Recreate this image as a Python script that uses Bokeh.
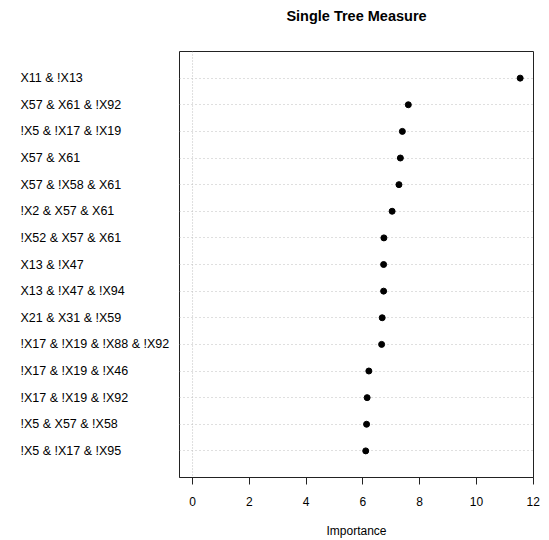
from bokeh.plotting import figure
from bokeh.layouts import row, column
from bokeh.models import ColumnDataSource, Span, FixedTicker, Range1d
from bokeh.embed import file_html
from bokeh.resources import INLINE
from bokeh.core.properties import value

labels = ["X11 & !X13", "X57 & X61 & !X92", "!X5 & !X17 & !X19", "X57 & X61",
          "X57 & !X58 & X61", "!X2 & X57 & X61", "!X52 & X57 & X61", "X13 & !X47",
          "X13 & !X47 & !X94", "X21 & X31 & !X59", "!X17 & !X19 & !X88 & !X92",
          "!X17 & !X19 & !X46", "!X17 & !X19 & !X92", "!X5 & X57 & !X58", "!X5 & !X17 & !X95"]
importance = [11.54, 7.60, 7.39, 7.32, 7.27, 7.03, 6.74, 6.73, 6.73, 6.68, 6.66,
              6.21, 6.15, 6.13, 6.10]
xticks = [0, 2, 4, 6, 8, 10, 12]
title = "Single Tree Measure"

n = len(labels)
rows = list(range(n, 0, -1))

FONT = "Liberation Sans"
yr = Range1d(0, n + 1)


def blank(fig):
    fig.axis.visible = False
    fig.grid.visible = False
    fig.outline_line_color = None
    fig.background_fill_color = "white"
    fig.border_fill_color = "white"


# title strip
top = figure(width=549, height=51, output_backend="svg", toolbar_location=None,
             x_range=Range1d(0, 549), y_range=Range1d(0, 51),
             min_border=0)
blank(top)
top.text(x=[356], y=[36], text=[title], text_font=value(FONT),
         text_font_size="14.5px", text_font_style="bold", text_color="black",
         text_baseline="middle", text_align="center")

# left panel with the row labels
left = figure(width=179, height=489, output_backend="svg", toolbar_location=None,
              x_range=Range1d(0, 179), y_range=yr,
              min_border_left=0, min_border_right=0, min_border_top=0,
              min_border_bottom=62)
blank(left)
lsrc = ColumnDataSource(dict(x=[20] * n, y=rows, lab=labels))
left.text("x", "y", text="lab", source=lsrc, text_font=value(FONT),
          text_font_size="12.5px", text_color="black",
          text_baseline="middle", text_align="left")

p = figure(width=370, height=489, output_backend="svg", toolbar_location=None,
           x_range=Range1d(-0.46, 12.01), y_range=yr,
           min_border_left=0, min_border_right=16, min_border_top=0,
           min_border_bottom=62)
p.background_fill_color = "white"
p.border_fill_color = "white"
p.outline_line_color = "#222222"
p.outline_line_width = 1

p.yaxis.visible = False
p.xgrid.visible = False
p.ygrid[0].ticker = FixedTicker(ticks=rows)
p.ygrid.grid_line_color = "#BEBEBE"
p.ygrid.grid_line_dash = "1 3"
p.ygrid.grid_line_width = 1

p.add_layout(Span(location=0, dimension="height", line_color="#BEBEBE",
                  line_dash="1 2", line_width=1))

ax = p.xaxis[0]
ax.ticker = FixedTicker(ticks=xticks)
ax.minor_tick_line_color = None
ax.major_tick_out = 7
ax.major_tick_in = 0
ax.major_tick_line_color = "#222222"
ax.axis_line_color = "#222222"
ax.major_label_text_font = FONT
ax.major_label_text_font_size = "12px"
ax.major_label_text_color = "black"
ax.major_label_standoff = 12
ax.axis_label = "Importance"
ax.axis_label_text_font = FONT
ax.axis_label_text_font_size = "12px"
ax.axis_label_text_font_style = "normal"
ax.axis_label_text_color = "black"
ax.axis_label_standoff = 15

src = ColumnDataSource(dict(x=importance, y=rows))
p.scatter("x", "y", source=src, size=6, color="black")

layout = column(top, row(left, p, spacing=0), spacing=0)
open("out.html", "w").write(file_html(layout, INLINE))
